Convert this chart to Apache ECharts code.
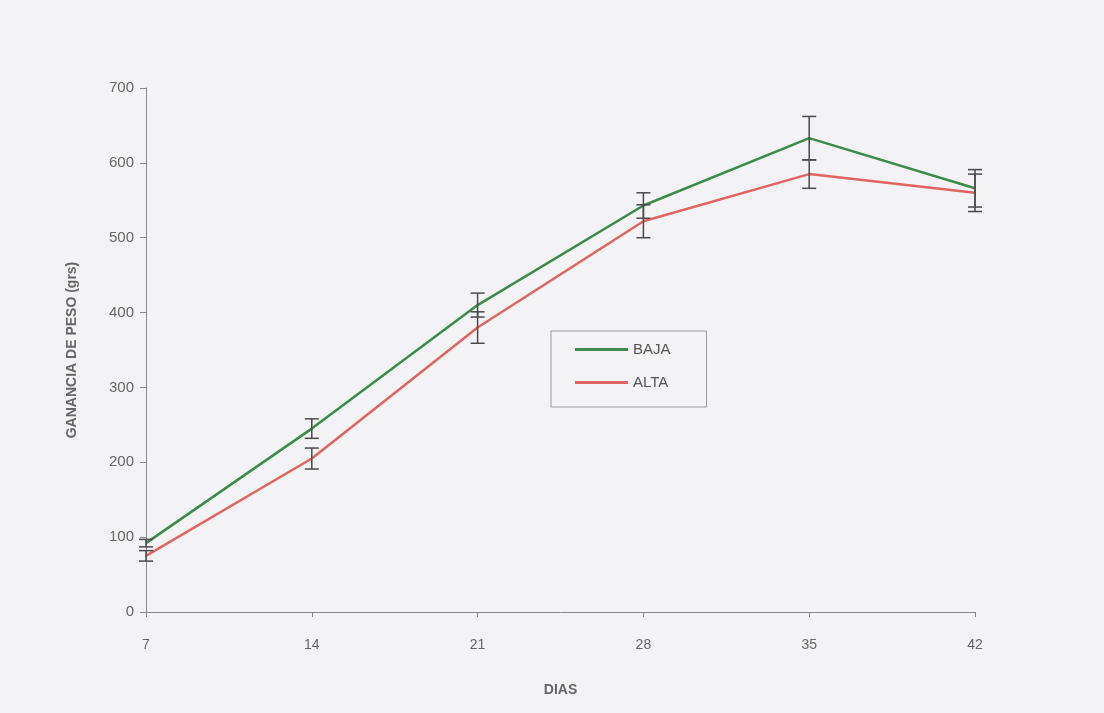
<!DOCTYPE html>
<html>
<head>
<meta charset="utf-8">
<script src="https://cdn.jsdelivr.net/npm/echarts@6/dist/echarts.min.js"></script>
<style>
  html, body { margin: 0; padding: 0; background: #f3f3f5; }
  #chart { width: 1104px; height: 713px; }
</style>
</head>
<body>
<div id="chart"></div>
<script>
// days on x axis
const dias = [7, 14, 21, 28, 35, 42]
const baja = [92, 245, 410, 543, 633, 566]
const alta = [75, 205, 380, 522, 585, 560]
// +/- error
const bajaErr = [5, 13, 16, 17, 29, 25]
const altaErr = [7, 14, 21, 22, 19, 25]
const yTicks = [0, 100, 200, 300, 400, 500, 600, 700]

const font = 'Liberation Sans, Arial, sans-serif'

let errData = []
dias.forEach(function (d, i) {
  errData.push([d, baja[i] - bajaErr[i], baja[i] + bajaErr[i]])
  errData.push([d, alta[i] - altaErr[i], alta[i] + altaErr[i]])
})

let chart = echarts.init(document.getElementById('chart'))

chart.setOption({
  backgroundColor: '#f3f3f5',
  animation: false,
  grid: { left: 146, right: 129, top: 88, bottom: 101 },
  legend: {
    orient: 'vertical',
    left: 551,
    top: 331,
    padding: [11, 36, 17, 24],
    borderColor: '#9a9a9a',
    borderWidth: 1,
    icon: 'rect',
    itemWidth: 53,
    itemHeight: 3,
    itemGap: 18,
    textStyle: { fontFamily: font, fontSize: 15, color: '#555' },
    data: ['BAJA', 'ALTA']
  },
  xAxis: {
    type: 'value',
    min: 7,
    max: 42,
    interval: 7,
    name: 'DIAS',
    nameLocation: 'middle',
    nameGap: 71,
    nameTextStyle: { fontFamily: font, fontSize: 14, fontWeight: 'bold', color: '#666' },
    axisLine: { lineStyle: { color: '#8a8a8a', width: 1 } },
    axisTick: { show: true, length: 5, lineStyle: { color: '#8a8a8a' } },
    axisLabel: { fontFamily: font, fontSize: 14, color: '#666', margin: 26 },
    splitLine: { show: false }
  },
  yAxis: {
    type: 'value',
    min: yTicks[0],
    max: yTicks[yTicks.length - 1],
    interval: 100,
    name: 'GANANCIA DE PESO (grs)',
    nameLocation: 'middle',
    nameGap: 67,
    nameTextStyle: { fontFamily: font, fontSize: 14, fontWeight: 'bold', color: '#666' },
    axisLine: { show: true, lineStyle: { color: '#8a8a8a', width: 1 } },
    axisTick: { show: true, length: 6, lineStyle: { color: '#8a8a8a' } },
    axisLabel: { fontFamily: font, fontSize: 15, color: '#666', margin: 12 },
    splitLine: { show: false }
  },
  series: [
    {
      name: 'BAJA',
      type: 'line',
      symbol: 'none',
      color: '#3e8a4c',
      lineStyle: { width: 2.5, color: '#3e8a4c' },
      data: dias.map(function (d, i) { return [d, baja[i]] }),
      z: 3
    },
    {
      name: 'ALTA',
      type: 'line',
      symbol: 'none',
      color: '#e06464',
      lineStyle: { width: 2.5, color: '#e06464' },
      data: dias.map(function (d, i) { return [d, alta[i]] }),
      z: 2
    },
    {
      type: 'custom',
      name: 'err',
      z: 4,
      renderItem: function (params, api) {
        let lo = api.coord([api.value(0), api.value(1)])
        let hi = api.coord([api.value(0), api.value(2)])
        let w = 7
        let st = { stroke: '#4a4a4a', lineWidth: 1.5 }
        return {
          type: 'group',
          children: [
            { type: 'line', shape: { x1: lo[0], y1: lo[1], x2: hi[0], y2: hi[1] }, style: st },
            { type: 'line', shape: { x1: lo[0] - w, y1: lo[1], x2: lo[0] + w, y2: lo[1] }, style: st },
            { type: 'line', shape: { x1: hi[0] - w, y1: hi[1], x2: hi[0] + w, y2: hi[1] }, style: st }
          ]
        }
      },
      data: errData
    }
  ]
})
</script>
</body>
</html>
